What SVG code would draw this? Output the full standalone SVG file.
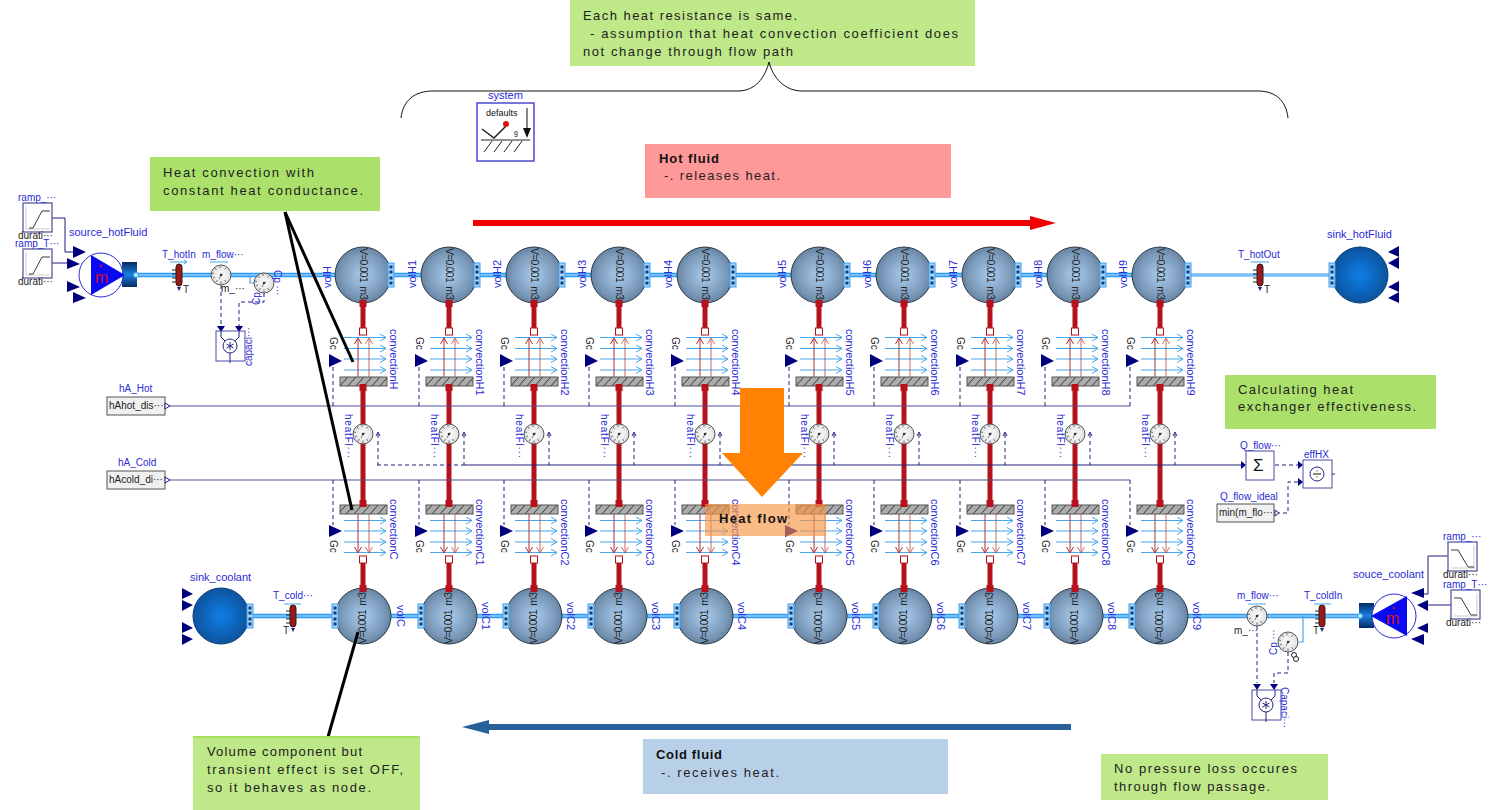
<svg xmlns="http://www.w3.org/2000/svg" width="1501" height="810" viewBox="0 0 1501 810">
<style>
text{font-family:"Liberation Sans",Arial,sans-serif}
.b{fill:#2a2ad6;font-size:10px}
.bl{fill:#2a2ad6;font-size:11px}
.k{fill:#222;font-size:10px}
.v{fill:#222;font-size:10.500px}
.a{fill:#222;font-size:13px}
.ab{fill:#111;font-size:13px;font-weight:bold}
.n{fill:#00007f}
.dash{fill:none;stroke:#23237f;stroke-width:1;stroke-dasharray:4 3}
.sol{fill:none;stroke:#23237f;stroke-width:1}
.ctl{fill:none;stroke:#1d1d80;stroke-width:1}
.red{fill:none;stroke:#b5121b;stroke-width:5}
.pipe{fill:none;stroke:#2f9bf5;stroke-width:4.500}
.pipei{fill:none;stroke:#bfe6ff;stroke-width:1}
.thin{fill:none;stroke:#46a6ee;stroke-width:1.200}
.lb{fill:none;stroke:#46a6ee;stroke-width:1.200;marker-end:url(#mb)}
.lr{fill:none;stroke:#b03030;stroke-width:1;marker-end:url(#mr)}
.box{fill:#fff;stroke:#4a4aa8;stroke-width:1}
.gbox{fill:#f0f0f0;stroke:#555;stroke-width:1}
.note{fill:#bfe889}
.lead{stroke:#000;stroke-width:3;fill:none}
</style>
<defs>
<radialGradient id="gv" cx="50%" cy="50%" r="58%"><stop offset="0" stop-color="#a9cdef"/><stop offset=".65" stop-color="#7c9aba"/><stop offset="1" stop-color="#587592"/></radialGradient>
<radialGradient id="gs" cx="50%" cy="50%" r="55%"><stop offset="0" stop-color="#0f7fe6"/><stop offset="1" stop-color="#0c4f98"/></radialGradient>
<radialGradient id="gg" cx="50%" cy="50%" r="55%"><stop offset="0" stop-color="#fff"/><stop offset="1" stop-color="#dcdcdc"/></radialGradient>
<linearGradient id="gb" x1="0" y1="0" x2="0" y2="1"><stop offset="0" stop-color="#062a60"/><stop offset=".5" stop-color="#1a7fe0"/><stop offset="1" stop-color="#062a60"/></linearGradient>
<pattern id="hatch" width="8" height="9" patternUnits="userSpaceOnUse"><rect width="8" height="9" fill="#adadad"/><path d="M0 9 L8 0" stroke="#333" stroke-width="1"/></pattern>
<marker id="mb" markerWidth="8" markerHeight="8" refX="7" refY="4" orient="auto" markerUnits="userSpaceOnUse"><path d="M1 0.500L7 4L1 7.500" fill="none" stroke="#46a6ee" stroke-width="1"/></marker>
<marker id="mr" markerWidth="8" markerHeight="8" refX="7" refY="4" orient="auto" markerUnits="userSpaceOnUse"><path d="M1 0.500L7 4L1 7.500" fill="none" stroke="#b03030" stroke-width="1"/></marker>
<g id="port"><rect x="-3" y="-12" width="6" height="24" fill="#a7d6f7" stroke="#3aa0f0"/><path d="M-1.500 -8h3M-1.500 -3h3M-1.500 3h3M-1.500 8h3" stroke="#123a80" stroke-width="3"/></g>
<g id="sph"><circle r="28" fill="url(#gv)" stroke="#2c3a48"/></g>
<g id="sink"><circle r="28" fill="url(#gs)" stroke="#0b3a70"/></g>
<g id="vH"><use href="#sph" y="275"/><use href="#port" x="28" y="275"/><text class="v" transform="translate(-3 248) rotate(90)" textLength="52">V=0.001&#160;&#160;m3</text><rect x="-3.500" y="300" width="7" height="7" fill="#b5121b"/></g>
<g id="vC"><use href="#sph" y="616"/><use href="#port" x="-28" y="616"/><text class="v" transform="translate(3 644) rotate(-90)" textLength="52">V=0.001&#160;&#160;m3</text><rect x="-3.500" y="585" width="7" height="7" fill="#b5121b"/></g>
<g id="cH"><rect x="-3.500" y="328" width="7" height="7" fill="#fff" stroke="#b5121b"/><path class="lb" d="M-19 337.500H23"/><path class="lb" d="M-19 348.500H23"/><path class="lb" d="M-19 359H23"/><path class="lb" d="M-19 370H23"/><path class="lr" d="M-5 377V338"/><path class="lr" d="M6 377V338" opacity=".7"/><rect x="-23" y="377" width="47" height="9" fill="url(#hatch)" stroke="#555"/><rect x="-3.500" y="384" width="7" height="7" fill="#b5121b"/><polygon class="n" points="-34,354 -21,361 -34,367"/><path class="dash" d="M-30 367V406"/><text class="k" transform="translate(-33 337) rotate(90)">Gc</text></g>
<g id="cC"><rect x="-3.500" y="556" width="7" height="7" fill="#fff" stroke="#b5121b"/><path class="lb" d="M-19 520.500H23"/><path class="lb" d="M-19 531H23"/><path class="lb" d="M-19 542H23"/><path class="lb" d="M-19 552.500H23"/><path class="lr" d="M-5 514V553"/><path class="lr" d="M6 514V553" opacity=".7"/><rect x="-23" y="505" width="47" height="9" fill="url(#hatch)" stroke="#555"/><rect x="-3.500" y="500" width="7" height="7" fill="#b5121b"/><polygon class="n" points="-34,525 -21,531 -34,537"/><path class="dash" d="M-30 480V525"/><text class="k" transform="translate(-33 540) rotate(90)">Gc</text></g>
<g id="gauge"><circle r="10" fill="url(#gg)" stroke="#555"/><path d="M-8 3L-6 2M-9 -2L-7 -1.500M-6 -7L-4.500 -5M-1 -9V-7M5 -7L3.500 -5.500M-5 7L-3.500 5M0 9V6.500M5 7L3.500 5M0 0L2 -1M0 0L-2 4" stroke="#555" stroke-width=".8" fill="none"/><circle r="1.300" fill="#333"/></g>
<g id="hf"><use href="#gauge" y="434"/><path class="dash" d="M15 434V465"/><path d="M13 436L15 432L17 436" fill="none" stroke="#23237f"/><text class="b" transform="translate(-18 414) rotate(90)" letter-spacing=".8">heatFl···</text></g>
<g id="tsens"><path d="M-7 -5H0M-7 -1H0M-7 3H0M-7 7H0" stroke="#222"/><rect x="-3" y="-11" width="6" height="22" rx="3" fill="#a01515" stroke="#222"/><path d="M-2 12L2 12L0 16Z" fill="#23237f"/></g>
<g id="rampU"><rect x="0" y="0" width="29" height="29" fill="#fff" stroke="#5a5aa0" stroke-width="1.300"/><path d="M3 26H27M3 26V3" stroke="#ccc" fill="none"/><path d="M6 25H10L19 8H27" stroke="#222" stroke-width=".9" fill="none"/></g>
<g id="rampD"><rect x="0" y="0" width="29" height="29" fill="#fff" stroke="#5a5aa0" stroke-width="1.300"/><path d="M3 26H27M26 26V3" stroke="#ccc" fill="none"/><path d="M3 8H10L20 25H26" stroke="#222" stroke-width=".9" fill="none"/></g>
<g id="cap"><rect x="0" y="0" width="29" height="30" class="box"/><circle cx="14" cy="15" r="7" fill="#fff" stroke="#23237f"/><path d="M5 0V6L9 10M23 0V6L19 10M14 22V32M14 11V19M10.500 13L17.500 17M10.500 17L17.500 13" stroke="#23237f" fill="none"/></g>
</defs>

<g id="notes">
<rect class="note" x="570" y="0" width="405" height="66"/>
<text class="a" x="583" y="20" textLength="214">Each heat resistance is same.</text>
<text class="a" x="590" y="38" textLength="368">- assumption that heat convection coefficient does</text>
<text class="a" x="583" y="56" textLength="210">not change through flow path</text>
<path d="M401 118C403 100 415 91 433 91H738C755 91 765 78 769 62C773 78 785 91 802 91H1258C1275 91 1286 100 1288 118" fill="none" stroke="#111" stroke-width="1"/>
<rect x="645" y="144" width="306" height="54" fill="#ff9999"/>
<rect x="643" y="739" width="305" height="55" fill="#b8cfe8"/>
<rect class="note" x="150" y="157" width="230" height="54" style="fill:#abe16a"/>
<rect class="note" x="1225" y="375" width="211" height="54" style="fill:#abe16a"/>
<rect class="note" x="193" y="737" width="227" height="73"/>
<rect class="note" x="1101" y="754" width="227" height="46"/>
</g>

<g id="system"><text class="b" x="488" y="99" style="font-size:11px">system</text><rect x="477" y="103" width="57" height="58" fill="#fff" stroke="#4a4ad0" stroke-width="1.500"/><text x="486" y="116" style="font-size:9px;fill:#111">defaults</text><path d="M482 129L494 138L506 126" fill="none" stroke="#222" stroke-width="1.500"/><circle cx="506" cy="124" r="3" fill="#e01010"/><path d="M527 108V128" stroke="#111"/><path d="M523 128H531L527 138Z" fill="#111"/><text x="514" y="135" style="font-size:7px;fill:#111">g</text><path d="M481 140H530M492 141L484 152M502 141L494 152M512 141L504 152M522 141L514 152" stroke="#222" fill="none"/></g>

<g id="connectors">
<path class="pipe" d="M137 275H1190"/><path class="pipei" d="M137 275H1190"/>
<path class="pipe" d="M1190 275H1332" style="stroke-width:3"/><path class="pipei" d="M1190 275H1332"/>
<path class="pipe" d="M250 616H1360"/><path class="pipei" d="M250 616H1360"/>
<path class="thin" d="M250 275V283H254"/>
<path class="thin" d="M1303 616V642H1299"/>
<path class="red" d="M363 303V328M363 386V505M363 563V588"/>
<path class="red" d="M449 303V328M449 386V505M449 563V588"/>
<path class="red" d="M534 303V328M534 386V505M534 563V588"/>
<path class="red" d="M619 303V328M619 386V505M619 563V588"/>
<path class="red" d="M705 303V328M705 386V505M705 563V588"/>
<path class="red" d="M819 303V328M819 386V505M819 563V588"/>
<path class="red" d="M904 303V328M904 386V505M904 563V588"/>
<path class="red" d="M990 303V328M990 386V505M990 563V588"/>
<path class="red" d="M1075 303V328M1075 386V505M1075 563V588"/>
<path class="red" d="M1160 303V328M1160 386V505M1160 563V588"/>
<path d="M166 406H1130M166 480H1130" stroke="#4e4e98" stroke-width="1.200" fill="none"/>
<path class="dash" d="M377 465H462"/>
<path class="sol" d="M462 465H1241"/>
<path class="ctl" d="M52 218H65V252H73"/><path class="ctl" d="M52 263H67"/>
<path class="ctl" d="M1448 556H1428V594H1424"/><path class="ctl" d="M1451 605H1428"/>
<path class="dash" d="M221 285V327"/><path class="dash" d="M264 293V302H239V327"/>
<path class="dash" d="M1257 626V683"/><path class="dash" d="M1288 652V673H1274V683"/>
<path class="dash" d="M1275 465H1298"/><path class="dash" d="M1276 513H1288V482H1298"/>
<polygon class="n" points="1241,461 1246,465 1241,469"/>
<polygon class="n" points="1298,461 1303,465 1298,469"/><polygon class="n" points="1298,478 1303,482 1298,486"/>
<polygon class="n" points="217,326 225,326 221,332"/><polygon class="n" points="235,326 243,326 239,332"/>
<polygon class="n" points="1253,684 1261,684 1257,690"/><polygon class="n" points="1270,684 1278,684 1274,690"/>
</g>

<g id="volH" transform="translate(363 0)"><use href="#vH"/><text class="bl" transform="translate(-32 288) rotate(-90)">volH</text></g>
<g id="volH1" transform="translate(449 0)"><use href="#vH"/><text class="bl" transform="translate(-33 288) rotate(-90)">volH1</text></g>
<g id="volH2" transform="translate(534 0)"><use href="#vH"/><text class="bl" transform="translate(-33 288) rotate(-90)">volH2</text></g>
<g id="volH3" transform="translate(619 0)"><use href="#vH"/><text class="bl" transform="translate(-33 288) rotate(-90)">volH3</text></g>
<g id="volH4" transform="translate(705 0)"><use href="#vH"/><text class="bl" transform="translate(-33 288) rotate(-90)">volH4</text></g>
<g id="volH5" transform="translate(819 0)"><use href="#vH"/><text class="bl" transform="translate(-33 288) rotate(-90)">volH5</text></g>
<g id="volH6" transform="translate(904 0)"><use href="#vH"/><text class="bl" transform="translate(-33 288) rotate(-90)">volH6</text></g>
<g id="volH7" transform="translate(990 0)"><use href="#vH"/><text class="bl" transform="translate(-33 288) rotate(-90)">volH7</text></g>
<g id="volH8" transform="translate(1075 0)"><use href="#vH"/><text class="bl" transform="translate(-33 288) rotate(-90)">volH8</text></g>
<g id="volH9" transform="translate(1160 0)"><use href="#vH"/><text class="bl" transform="translate(-33 288) rotate(-90)">volH9</text></g>

<g id="convectionH" transform="translate(363 0)"><use href="#cH"/><text class="bl" transform="translate(27 329) rotate(90)">convectionH</text></g>
<g id="convectionH1" transform="translate(449 0)"><use href="#cH"/><text class="bl" transform="translate(27 329) rotate(90)">convectionH1</text></g>
<g id="convectionH2" transform="translate(534 0)"><use href="#cH"/><text class="bl" transform="translate(27 329) rotate(90)">convectionH2</text></g>
<g id="convectionH3" transform="translate(619 0)"><use href="#cH"/><text class="bl" transform="translate(27 329) rotate(90)">convectionH3</text></g>
<g id="convectionH4" transform="translate(705 0)"><use href="#cH"/><text class="bl" transform="translate(27 329) rotate(90)">convectionH4</text></g>
<g id="convectionH5" transform="translate(819 0)"><use href="#cH"/><text class="bl" transform="translate(27 329) rotate(90)">convectionH5</text></g>
<g id="convectionH6" transform="translate(904 0)"><use href="#cH"/><text class="bl" transform="translate(27 329) rotate(90)">convectionH6</text></g>
<g id="convectionH7" transform="translate(990 0)"><use href="#cH"/><text class="bl" transform="translate(27 329) rotate(90)">convectionH7</text></g>
<g id="convectionH8" transform="translate(1075 0)"><use href="#cH"/><text class="bl" transform="translate(27 329) rotate(90)">convectionH8</text></g>
<g id="convectionH9" transform="translate(1160 0)"><use href="#cH"/><text class="bl" transform="translate(27 329) rotate(90)">convectionH9</text></g>

<g id="heatFlow" transform="translate(363 0)"><use href="#hf"/></g>
<g id="heatFlow1" transform="translate(449 0)"><use href="#hf"/></g>
<g id="heatFlow2" transform="translate(534 0)"><use href="#hf"/></g>
<g id="heatFlow3" transform="translate(619 0)"><use href="#hf"/></g>
<g id="heatFlow4" transform="translate(705 0)"><use href="#hf"/></g>
<g id="heatFlow5" transform="translate(819 0)"><use href="#hf"/></g>
<g id="heatFlow6" transform="translate(904 0)"><use href="#hf"/></g>
<g id="heatFlow7" transform="translate(990 0)"><use href="#hf"/></g>
<g id="heatFlow8" transform="translate(1075 0)"><use href="#hf"/></g>
<g id="heatFlow9" transform="translate(1160 0)"><use href="#hf"/></g>

<g id="convectionC" transform="translate(363 0)"><use href="#cC"/><text class="bl" transform="translate(27 499) rotate(90)">convectionC</text></g>
<g id="convectionC1" transform="translate(449 0)"><use href="#cC"/><text class="bl" transform="translate(27 499) rotate(90)">convectionC1</text></g>
<g id="convectionC2" transform="translate(534 0)"><use href="#cC"/><text class="bl" transform="translate(27 499) rotate(90)">convectionC2</text></g>
<g id="convectionC3" transform="translate(619 0)"><use href="#cC"/><text class="bl" transform="translate(27 499) rotate(90)">convectionC3</text></g>
<g id="convectionC4" transform="translate(705 0)"><use href="#cC"/><text class="bl" transform="translate(27 499) rotate(90)">convectionC4</text></g>
<g id="convectionC5" transform="translate(819 0)"><use href="#cC"/><text class="bl" transform="translate(27 499) rotate(90)">convectionC5</text></g>
<g id="convectionC6" transform="translate(904 0)"><use href="#cC"/><text class="bl" transform="translate(27 499) rotate(90)">convectionC6</text></g>
<g id="convectionC7" transform="translate(990 0)"><use href="#cC"/><text class="bl" transform="translate(27 499) rotate(90)">convectionC7</text></g>
<g id="convectionC8" transform="translate(1075 0)"><use href="#cC"/><text class="bl" transform="translate(27 499) rotate(90)">convectionC8</text></g>
<g id="convectionC9" transform="translate(1160 0)"><use href="#cC"/><text class="bl" transform="translate(27 499) rotate(90)">convectionC9</text></g>

<g id="volC" transform="translate(363 0)"><use href="#vC"/><text class="bl" transform="translate(34 605) rotate(90)">volC</text></g>
<g id="volC1" transform="translate(449 0)"><use href="#vC"/><text class="bl" transform="translate(33 602) rotate(90)">volC1</text></g>
<g id="volC2" transform="translate(534 0)"><use href="#vC"/><text class="bl" transform="translate(33 602) rotate(90)">volC2</text></g>
<g id="volC3" transform="translate(619 0)"><use href="#vC"/><text class="bl" transform="translate(33 602) rotate(90)">volC3</text></g>
<g id="volC4" transform="translate(705 0)"><use href="#vC"/><text class="bl" transform="translate(33 602) rotate(90)">volC4</text></g>
<g id="volC5" transform="translate(819 0)"><use href="#vC"/><text class="bl" transform="translate(33 602) rotate(90)">volC5</text></g>
<g id="volC6" transform="translate(904 0)"><use href="#vC"/><text class="bl" transform="translate(33 602) rotate(90)">volC6</text></g>
<g id="volC7" transform="translate(990 0)"><use href="#vC"/><text class="bl" transform="translate(33 602) rotate(90)">volC7</text></g>
<g id="volC8" transform="translate(1075 0)"><use href="#vC"/><text class="bl" transform="translate(33 602) rotate(90)">volC8</text></g>
<g id="volC9" transform="translate(1160 0)"><use href="#vC"/><text class="bl" transform="translate(33 602) rotate(90)">volC9</text></g>

<g id="ramp_top"><use href="#rampU" x="23" y="203"/><text class="b" x="18" y="201">ramp_···</text><text class="k" x="18" y="239">durati···</text></g>
<g id="ramp_T"><use href="#rampU" x="23" y="249"/><text class="b" x="15" y="247">ramp_T···</text><text class="k" x="18" y="285">durati···</text></g>
<g id="source_hotFluid"><text class="b" x="69" y="236" style="font-size:11px">source_hotFluid</text><polygon class="n" points="73,246 86,252 73,258"/><polygon class="n" points="67,258 80,264 67,269"/><polygon class="n" points="67,281 80,287 67,292"/><polygon class="n" points="73,292 86,298 73,303"/><rect x="122" y="262" width="15" height="25" fill="url(#gb)"/><circle cx="101" cy="275" r="22" fill="#fff" stroke="#2a2ad6"/><polygon points="91,255 125,275 91,295" fill="#0a0af0"/><text x="95" y="283" style="font-size:16px;fill:#d01030">m</text><circle cx="101" cy="266" r="1.200" fill="#d01030"/><circle cx="136" cy="275" r="2.500" fill="#bfe6ff" stroke="#2f9bf5"/></g>
<g id="T_hotIn"><text class="b" x="162" y="258">T_hotIn</text><path d="M170 262H187" stroke="#46a6ee"/><path d="M184 260L187 262L184 264" stroke="#46a6ee" fill="none"/><use href="#tsens" x="179" y="275"/><text class="k" x="183" y="293">T</text></g>
<g id="m_flow_hot"><text class="b" x="202" y="258">m_flow···</text><path d="M210 262H228" stroke="#46a6ee"/><use href="#gauge" x="221" y="275"/><text class="k" x="221" y="292">m_···</text></g>
<g id="Cp_hot"><use href="#gauge" x="264" y="283"/><text class="b" transform="translate(274 270) rotate(90)">Cp ···</text><text class="b" transform="translate(260 305) rotate(-90)">Cp</text></g>
<g id="capacity_hot"><use href="#cap" x="216" y="331"/><text class="b" transform="translate(252 366) rotate(-90)">capaci···</text></g>

<g id="hA_Hot"><text class="b" x="119" y="392">hA_Hot</text><rect class="gbox" x="107" y="397" width="58" height="18"/><text class="k" x="109" y="409">hAhot_dis···</text><path d="M165 403L170 406L165 409Z" fill="#fff" stroke="#23237f"/></g>
<g id="hA_Cold"><text class="b" x="118" y="466">hA_Cold</text><rect class="gbox" x="107" y="471" width="58" height="18"/><text class="k" x="109" y="483">hAcold_di···</text><path d="M165 477L170 480L165 483Z" fill="#fff" stroke="#23237f"/></g>

<g id="sink_hotFluid"><text class="b" x="1327" y="238" style="font-size:11px">sink_hotFluid</text><use href="#sink" x="1360" y="275"/><use href="#port" x="1332" y="275"/><polygon class="n" points="1399,246 1388,252 1399,257"/><polygon class="n" points="1399,257 1388,263 1399,269"/><polygon class="n" points="1399,281 1388,287 1399,292"/><polygon class="n" points="1399,292 1388,298 1399,303"/></g>
<g id="T_hotOut"><text class="b" x="1238" y="258">T_hotOut</text><path d="M1251 262H1269" stroke="#46a6ee"/><use href="#tsens" x="1260" y="275"/><text class="k" x="1264" y="293">T</text></g>

<g id="sink_coolant"><text class="b" x="190" y="581" style="font-size:11px">sink_coolant</text><use href="#sink" x="221" y="616"/><use href="#port" x="250" y="616"/><polygon class="n" points="182,588 193,594 182,599"/><polygon class="n" points="182,600 193,605 182,611"/><polygon class="n" points="182,622 193,628 182,633"/><polygon class="n" points="182,634 193,639 182,645"/></g>
<g id="T_cold"><text class="b" x="273" y="599">T_cold···</text><path d="M284 604H301" stroke="#46a6ee"/><use href="#tsens" x="293" y="616"/><text class="k" x="283" y="634">T</text></g>

<g id="Q_flow_sum"><text class="b" x="1240" y="449">Q_flow···</text><rect class="box" x="1246" y="451" width="28" height="29"/><text x="1253" y="471" style="font-size:17px;fill:#111">&#931;</text></g>
<g id="effHX"><text class="b" x="1304" y="458">effHX</text><rect class="box" x="1303" y="460" width="29" height="28"/><circle cx="1317" cy="474" r="7" fill="#fff" stroke="#23237f"/><path d="M1313 474H1321M1317 470.500V471.500M1317 476.500V477.500" stroke="#111"/><path d="M1332 474H1335" stroke="#23237f"/></g>
<g id="Q_flow_ideal"><text class="b" x="1220" y="500">Q_flow_ideal</text><rect class="gbox" x="1217" y="504" width="57" height="18"/><text class="k" x="1219" y="516">min(m_flo···</text><path d="M1275 510L1279 513L1275 516Z" fill="#fff" stroke="#23237f"/></g>

<g id="m_flow_cold"><text class="b" x="1237" y="599">m_flow···</text><path d="M1248 604H1266" stroke="#46a6ee"/><use href="#gauge" x="1257" y="616"/><text class="k" x="1234" y="634">m_···</text></g>
<g id="T_coldIn"><text class="b" x="1304" y="599">T_coldIn</text><path d="M1314 604H1331" stroke="#46a6ee"/><use href="#tsens" x="1322" y="616"/><text class="k" x="1313" y="634">T</text></g>
<g id="Cp_cold"><use href="#gauge" x="1288" y="642"/><circle cx="1294" cy="655" r="2.500" fill="#fff" stroke="#222"/><circle cx="1296" cy="659" r="2.500" fill="#fff" stroke="#222"/><text class="b" transform="translate(1277 655) rotate(-90)">Cp ···</text></g>
<g id="capacity_cold"><use href="#cap" x="1252" y="690"/><text class="b" transform="translate(1281 687) rotate(90)">Capaci···</text></g>
<g id="souce_coolant"><text class="b" x="1353" y="578" style="font-size:11px">souce_coolant</text><rect x="1359" y="603" width="15" height="25" fill="url(#gb)"/><circle cx="1394" cy="616" r="22" fill="#fff" stroke="#2a2ad6"/><polygon points="1371,616 1407,596 1407,636" fill="#0a0af0"/><text x="1386" y="624" style="font-size:16px;fill:#d01030">m</text><circle cx="1394" cy="608" r="1.200" fill="#d01030"/><circle cx="1360" cy="616" r="2.500" fill="#bfe6ff" stroke="#2f9bf5"/><polygon class="n" points="1424,588 1411,593 1424,598"/><polygon class="n" points="1428,600 1417,605 1428,611"/><polygon class="n" points="1428,623 1417,628 1428,633"/><polygon class="n" points="1424,634 1411,639 1424,645"/></g>
<g id="ramp_c1"><use href="#rampD" x="1448" y="542"/><text class="b" x="1443" y="540">ramp_···</text><text class="k" x="1443" y="578">durati···</text></g>
<g id="ramp_c2"><use href="#rampD" x="1451" y="590"/><text class="b" x="1443" y="588">ramp_T···</text><text class="k" x="1446" y="626">durati···</text></g>

<g id="overlay">
<path d="M473 220H1030V216L1056 223L1030 230V226H473Z" fill="#f00000"/>
<path d="M1071 724H489V720L462 727L489 734V730H1071Z" fill="#2a6099"/>
<path d="M740 388H784V453H803L762 497L722 453H740Z" fill="#ff8205"/>
<rect x="705" y="504" width="121" height="32" fill="#f79646" opacity=".65"/>
<path class="lead" d="M285 212L353 362"/>
<path class="lead" d="M285 212L352 510"/>
<path class="lead" d="M358 632L328 737"/>
<rect x="193" y="736" width="227" height="2" fill="#a8e060"/>
</g>

<g id="annotations">
<text class="a" x="163" y="177" textLength="151">Heat convection with</text>
<text class="a" x="163" y="195" textLength="200">constant heat conductance.</text>
<text class="ab" x="659" y="163" textLength="60">Hot fluid</text>
<text class="a" x="664" y="180" textLength="116">-. releases heat.</text>
<text class="a" x="1238" y="394" textLength="115">Calculating heat</text>
<text class="a" x="1238" y="411" textLength="178">exchanger effectiveness.</text>
<text class="ab" x="719" y="523" textLength="68">Heat flow</text>
<text class="ab" x="656" y="759" textLength="66">Cold fluid</text>
<text class="a" x="661" y="777" textLength="118">-. receives heat.</text>
<text class="a" x="207" y="756" textLength="155">Volume component but</text>
<text class="a" x="207" y="774" textLength="196">transient effect is set OFF,</text>
<text class="a" x="207" y="792" textLength="164">so it behaves as node.</text>
<text class="a" x="1114" y="773" textLength="183">No pressure loss occures</text>
<text class="a" x="1114" y="791" textLength="156">through flow passage.</text>
</g>
</svg>
